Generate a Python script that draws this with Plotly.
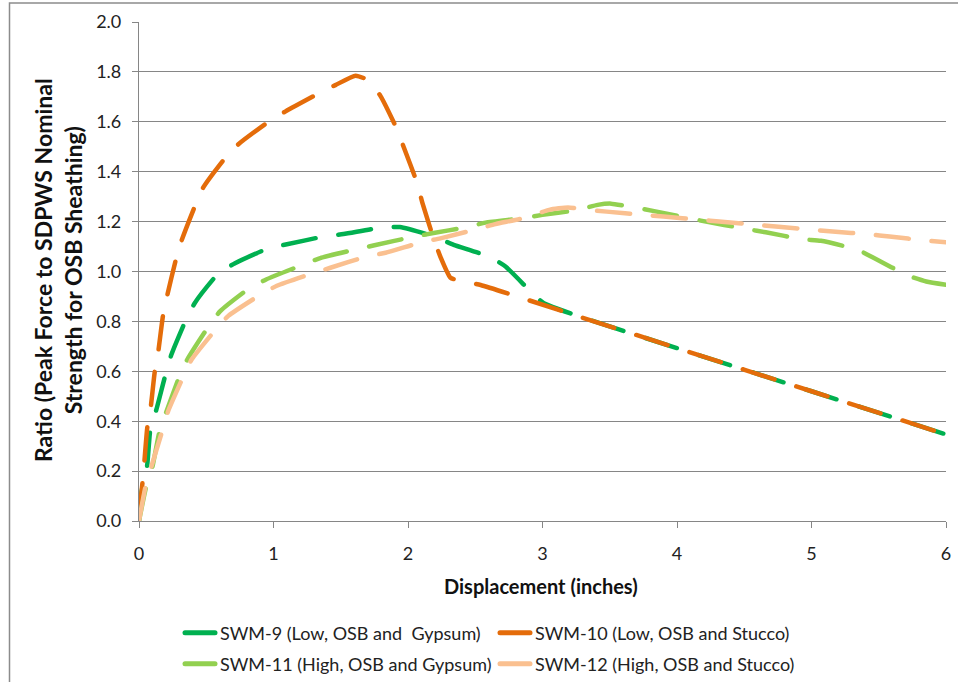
import plotly.graph_objects as go

# ---------------- data ----------------
series_names = [
    "SWM-9 (Low, OSB and  Gypsum)",
    "SWM-10 (Low, OSB and Stucco)",
    "SWM-11 (High, OSB and Gypsum)",
    "SWM-12 (High, OSB and Stucco)",
]
series_colors = ["#00B050", "#E46C0A", "#92D050", "#FAC090"]

swm9_x = [0, 0.02, 0.06, 0.085, 0.129, 0.199, 0.241, 0.348, 0.415, 0.59, 0.714, 0.963, 1.10,
          1.373, 1.52, 1.796, 1.94, 2.17, 2.34, 2.6, 2.725, 2.924, 3.01, 3.3, 4.0, 5.0, 6.0]
swm9_y = [0, 0.12, 0.22, 0.37, 0.446, 0.591, 0.667, 0.805, 0.874, 0.992, 1.033, 1.093, 1.109,
          1.14, 1.15, 1.175, 1.178, 1.144, 1.107, 1.06, 1.02, 0.913, 0.873, 0.815, 0.693, 0.52, 0.347]

swm10_x = [0, 0.025, 0.037, 0.062, 0.085, 0.117, 0.142, 0.179, 0.209, 0.274, 0.316, 0.415, 0.478,
           0.639, 0.739, 0.963, 1.087, 1.336, 1.46, 1.61, 1.709, 1.796, 1.92, 1.97, 2.07, 2.107,
           2.19, 2.241, 2.316, 2.40, 2.54, 3.234, 4.0, 5.0, 6.0]
swm10_y = [0.02, 0.149, 0.218, 0.377, 0.446, 0.598, 0.674, 0.826, 0.902, 1.047, 1.123, 1.261, 1.337,
           1.454, 1.51, 1.60, 1.641, 1.714, 1.747, 1.785, 1.765, 1.703, 1.568, 1.496, 1.351, 1.275,
           1.133, 1.059, 0.975, 0.962, 0.946, 0.826, 0.693, 0.52, 0.347]

swm11_x = [0, 0.05, 0.10, 0.154, 0.204, 0.299, 0.358, 0.515, 0.602, 0.813, 0.945, 1.199, 1.348,
           1.609, 1.759, 2.02, 2.179, 2.427, 2.576, 2.837, 3.0, 3.26, 3.41, 3.51, 3.68, 3.83, 4.177,
           4.53, 4.66, 4.935, 5.07, 5.344, 5.468, 5.72, 5.853, 6.0]
swm11_y = [0, 0.13, 0.218, 0.363, 0.439, 0.577, 0.646, 0.778, 0.84, 0.93, 0.968, 1.023, 1.054,
           1.088, 1.106, 1.137, 1.153, 1.177, 1.196, 1.213, 1.227, 1.247, 1.267, 1.272, 1.257, 1.242,
           1.204, 1.169, 1.157, 1.129, 1.123, 1.087, 1.053, 0.983, 0.96, 0.947]

swm12_x = [0, 0.05, 0.092, 0.174, 0.216, 0.328, 0.39, 0.565, 0.664, 0.888, 1.025, 1.286, 1.423,
           1.697, 1.833, 2.092, 2.241, 2.514, 2.65, 2.85, 3.05, 3.19, 3.326, 3.477, 3.75, 3.9, 4.178,
           4.314, 4.6, 4.735, 5.02, 5.157, 5.43, 5.58, 5.853, 6.0]
swm12_y = [0, 0.142, 0.218, 0.363, 0.439, 0.577, 0.646, 0.764, 0.822, 0.902, 0.943, 0.992, 1.015,
           1.061, 1.075, 1.116, 1.133, 1.17, 1.19, 1.213, 1.247, 1.257, 1.247, 1.24, 1.227, 1.22, 1.207,
           1.2, 1.187, 1.18, 1.167, 1.16, 1.149, 1.14, 1.124, 1.117]

x_tick_vals = [0, 1, 2, 3, 4, 5, 6]
y_tick_vals = [0.0, 0.2, 0.4, 0.6, 0.8, 1.0, 1.2, 1.4, 1.6, 1.8, 2.0]

x_title = "Displacement (inches)"
y_title = "Ratio (Peak Force to SDPWS Nominal<br>Strength for OSB Sheathing)"

# ---------------- figure ----------------
FONT = "Lato, 'Open Sans', sans-serif"
all_x = [swm9_x, swm10_x, swm11_x, swm12_x]
all_y = [swm9_y, swm10_y, swm11_y, swm12_y]
legend_ids = ["legend", "legend", "legend2", "legend2"]

fig = go.Figure()
for xs, ys, name, col in zip(all_x, all_y, series_names, series_colors):
    fig.add_trace(go.Scatter(
        x=xs, y=ys, mode="lines", name=name, showlegend=False,
        line=dict(color=col, width=4.5, dash="33px,23px", shape="spline", smoothing=0.5),
        hoverinfo="x+y+name",
    ))
# legend entries (solid lines, as in the reference legend)
for name, col, lg in zip(series_names, series_colors, legend_ids):
    fig.add_trace(go.Scatter(
        x=[None], y=[None], mode="lines", name=name, legend=lg,
        line=dict(color=col, width=5),
    ))

L, R, T, B = 139, 12, 22, 161
W, H = 958, 682
pw, ph = W - L - R, H - T - B

def px_x(px):
    return (px - L) / pw

def px_y(py):
    return (H - B - py) / ph

axis_line = "#868686"
leg_common = dict(
    orientation="h", xanchor="left", yanchor="middle",
    entrywidth=270, entrywidthmode="pixels", font=dict(size=18, family=FONT, color="#222"),
    bgcolor="rgba(0,0,0,0)", itemwidth=30,
)
fig.update_layout(
    width=W, height=H, autosize=False,
    margin=dict(l=L, r=R, t=T, b=B, autoexpand=False),
    paper_bgcolor="white", plot_bgcolor="white",
    font=dict(family=FONT, size=18, color="#222"),
    xaxis=dict(
        range=[0, 6], tickvals=x_tick_vals, ticks="outside", ticklen=6, tickcolor=axis_line,
        showline=True, linecolor=axis_line, linewidth=1.2, showgrid=False, zeroline=False,
        tickfont=dict(size=18, family=FONT, color="#222"), fixedrange=True,
        ticklabelstandoff=10,
    ),
    yaxis=dict(
        range=[0, 2], tickvals=y_tick_vals, tickformat=".1f", ticks="outside", ticklen=6,
        tickcolor=axis_line, showline=True, linecolor=axis_line, linewidth=1.2,
        showgrid=True, gridcolor=axis_line, gridwidth=1, zeroline=False,
        tickfont=dict(size=18, family=FONT, color="#222"), fixedrange=True,
        ticklabelstandoff=7,
    ),
    legend=dict(x=px_x(180), y=px_y(633), **leg_common),
    legend2=dict(x=px_x(180), y=px_y(664), **leg_common),
    annotations=[
        dict(text="<b>" + x_title + "</b>", x=px_x(541), y=px_y(586), xref="paper", yref="paper",
             showarrow=False, font=dict(size=20, family=FONT, color="#111"),
             xanchor="center", yanchor="middle"),
        dict(text="<b>" + y_title + "</b>", x=px_x(58), y=px_y(270), xref="paper", yref="paper",
             showarrow=False, textangle=-90, font=dict(size=23, family=FONT, color="#111"),
             xanchor="center", yanchor="middle"),
    ],
    shapes=[
        dict(type="rect", xref="paper", yref="paper",
             x0=px_x(9.5), x1=px_x(965), y0=px_y(690), y1=px_y(3),
             line=dict(color="#8c8c8c", width=1.5), fillcolor="rgba(0,0,0,0)"),
    ],
)

# Fit the figure to the actual browser viewport (keeping the same proportions),
# and give the dashed lines round caps like the original.
post = """
var s=document.createElement('style');
s.innerHTML='html,body{margin:0 !important;padding:0 !important;overflow:hidden;} .scatterlayer path.js-line, .legendlines path{stroke-linecap:round !important;}';
document.head.appendChild(s);
var gd=document.getElementById('{plot_id}');
var w=window.innerWidth||958, h=window.innerHeight||682;
if (Math.abs(w-958)>0.5 || Math.abs(h-682)>0.5) {
  var sx=w/958, sy=h/682;
  gd.style.width=w+'px'; gd.style.height=h+'px';
  Plotly.relayout(gd, {width:w, height:h,
    'margin.l':139*sx, 'margin.r':12*sx, 'margin.t':22*sy, 'margin.b':161*sy,
    'legend.entrywidth':270*sx, 'legend2.entrywidth':270*sx});
}
"""
fig.write_html("out.html", post_script=post,
               config={"responsive": False, "displayModeBar": False})
